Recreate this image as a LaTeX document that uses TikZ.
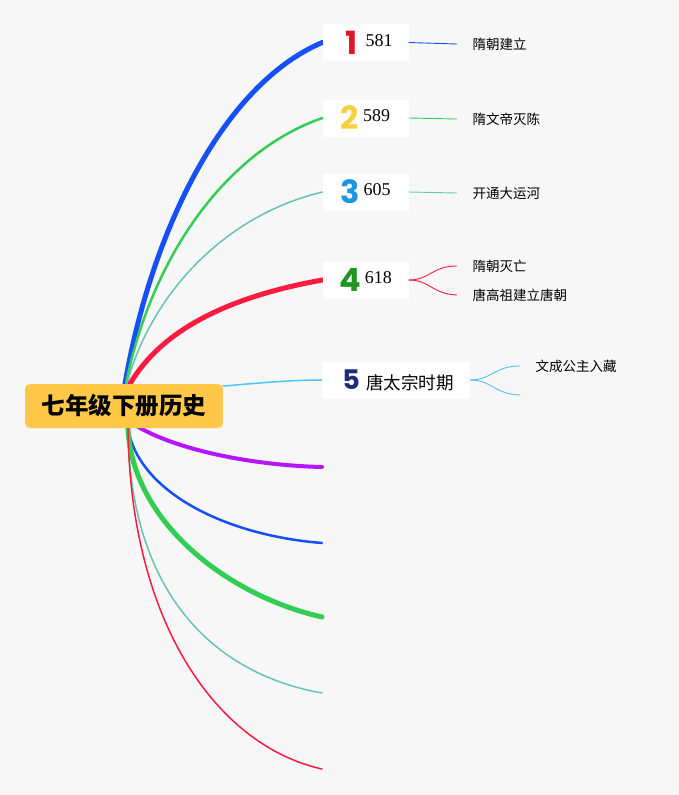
\documentclass[tikz,border=0pt]{standalone}
\usepackage{fontspec}
\setmainfont{Liberation Serif}
\newfontfamily\cjk{Noto Sans CJK SC}
\newfontfamily\digf{Poppins}
\usetikzlibrary{backgrounds}
\pgfdeclarelayer{bgfill}
\pgfsetlayers{bgfill,background,main}
\definecolor{bgc}{HTML}{F7F7F7}
\definecolor{rootc}{HTML}{FFC847}
\definecolor{cblue}{HTML}{1450F5}
\definecolor{cgreen}{HTML}{33CC55}
\definecolor{cteal}{HTML}{66C4B4}
\definecolor{cred}{HTML}{FF1A40}
\definecolor{clblue}{HTML}{4FC3F7}
\definecolor{cpurple}{HTML}{B515FF}
\definecolor{dred}{HTML}{E0162B}
\definecolor{dyellow}{HTML}{F5D13D}
\definecolor{dblue}{HTML}{1E96DC}
\definecolor{dgreen}{HTML}{1E9620}
\definecolor{dnavy}{HTML}{1F2A78}
\begin{document}
\begin{tikzpicture}[x=1pt,y=-1pt,
  rootbox/.style={fill=rootc, rounded corners=5pt, minimum width=198pt, minimum height=44pt, inner sep=0pt,
    font=\cjk\bfseries\fontsize{23.5}{26}\selectfont},
  topic/.style={fill=white, minimum width=86pt, minimum height=37pt, inner sep=0pt},
  leaf/.style={anchor=west, inner xsep=15.5pt, inner ysep=0pt, font=\cjk\fontsize{13.5}{16}\selectfont},
  br/.style={line cap=round},
  tw/.style={line width=0.9pt}
]
\begin{pgfonlayer}{bgfill}
  \fill[bgc] (0,0) rectangle (679,795);
\end{pgfonlayer}
\useasboundingbox (0,0) rectangle (679,795);

% root
\node[rootbox] (root) at (124,406) {七年级下册历史};

% topic boxes
\newcommand{\numtxt}[1]{\raisebox{8pt}{\fontsize{18}{20}\selectfont #1}}
\newcommand{\bigd}[2]{{\digf\bfseries\fontsize{32}{34}\selectfont\color{#1}#2}}
\node[topic] (b1) at (365.5,42.5) {\hspace{7pt}\bigd{dred}{1}\hspace{8pt}\numtxt{581}};
\node[topic] (b2) at (365.5,118) {\bigd{dyellow}{2}\hspace{4pt}\numtxt{589}\hspace{2pt}};
\node[topic] (b3) at (365.5,192) {\bigd{dblue}{3}\hspace{4pt}\numtxt{605}\hspace{2pt}};
\node[topic] (b4) at (365.5,280) {\bigd{dgreen}{4}\hspace{4pt}\numtxt{618}\hspace{4pt}};
\node[topic, minimum width=148pt] (b5) at (396,380) {\hspace{4pt}{\digf\bfseries\fontsize{27}{29}\selectfont\color{dnavy}5}\hspace{6pt}{\cjk\fontsize{17.5}{20}\selectfont 唐太宗时期}};

% leaves
\node[leaf] (l1) at (457,44) {隋朝建立};
\node[leaf] (l2) at (457,119) {隋文帝灭陈};
\node[leaf] (l3) at (457,193) {开通大运河};
\node[leaf] (l4a) at (457,266) {隋朝灭亡};
\node[leaf] (l4b) at (457,295) {唐高祖建立唐朝};
\node[leaf] (l5a) at (520,366) {文成公主入藏};
\coordinate (l5b) at (520,395);

% free ends of empty branches
\coordinate (e6) at (322,467);
\coordinate (e7) at (322,543);
\coordinate (e8) at (322,617);
\coordinate (e9) at (322,693);
\coordinate (e10) at (322,769);

\begin{pgfonlayer}{background}
  % upper branches
  \draw[br, cblue, line width=5pt] ([xshift=1pt]root.north) .. controls (151,233) and (222,85) .. (b1.west);
  \draw[br, cgreen, line width=2.5pt] ([xshift=2pt]root.north) .. controls (150,263) and (222,153) .. (b2.west);
  \draw[br, cteal, line width=1.5pt] ([xshift=3pt]root.north) .. controls (150,297) and (222,216) .. (b3.west);
  \draw[br, cred, line width=5pt] ([xshift=6pt]root.north) .. controls (160,333) and (222,298) .. (b4.west);
  \draw[br, clblue, line width=1.5pt] ([yshift=20pt]root.east) .. controls (260,383) and (290,380) .. (b5.west);
  % lower branches
  \draw[br, cpurple, line width=4pt] (128,420) .. controls (160,445) and (240,465) .. (e6);
  \draw[br, cblue, line width=2.5pt] ([xshift=4pt]root.south) .. controls (138,490) and (222,535) .. (e7);
  \draw[br, cgreen, line width=5pt] ([xshift=4pt]root.south) .. controls (132,520) and (225,595) .. (e8);
  \draw[br, cteal, line width=1.5pt] ([xshift=4pt]root.south) .. controls (130,600) and (220,675) .. (e9);
  \draw[br, cred, line width=1.5pt] ([xshift=4pt]root.south) .. controls (130,620) and (215,745) .. (e10);
\end{pgfonlayer}

% leaf connectors
\draw[tw, cblue] (b1.east) -- (l1.west);
\draw[tw, cgreen] (b2.east) -- (l2.west);
\draw[tw, cteal] (b3.east) -- (l3.west);
\draw[tw, cred] (b4.east) .. controls (430,280) and (432,266) .. (l4a.west);
\draw[tw, cred] (b4.east) .. controls (430,280) and (432,294) .. (l4b.west);
\draw[tw, clblue] (b5.east) .. controls (492,380) and (494,366) .. (l5a.west);
\draw[tw, clblue] (b5.east) .. controls (492,380) and (494,394) .. (l5b);
\end{tikzpicture}
\end{document}
